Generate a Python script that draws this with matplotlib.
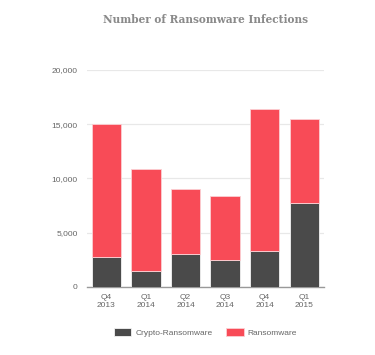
import matplotlib.pyplot as plt
import numpy as np

quarters = ["Q4\n2013", "Q1\n2014", "Q2\n2014", "Q3\n2014", "Q4\n2014", "Q1\n2015"]
crypto = [2700, 1450, 3000, 2500, 3250, 7700]
ransom = [12300, 9400, 6050, 5900, 13150, 7800]

dark = '#4a4a4a'
red = '#f84b57'
plt.rcParams['font.family'] = ['Liberation Sans', 'DejaVu Sans']

fig = plt.figure(figsize=(3.75, 3.55), dpi=100)
ax = fig.add_axes([0.231, 0.1924, 0.633, 0.6105])

x = np.arange(len(quarters))
ax.bar(x, crypto, width=0.74, color=dark, edgecolor='#f4f4f4', linewidth=0.6,
       label='Crypto-Ransomware', zorder=3)
ax.bar(x, ransom, width=0.74, bottom=crypto, color=red, edgecolor='#fbd0d3',
       linewidth=0.6, label='Ransomware', zorder=3)

ax.set_xlim(-0.5, 5.5)
ax.set_ylim(0, 20000)
ax.set_yticks([0, 5000, 10000, 15000, 20000])
ax.set_yticklabels(['0', '5,000', '10,000', '15,000', '20,000'])
ax.set_xticks(x)
ax.set_xticklabels(quarters, linespacing=1.35)
ax.grid(axis='y', color='#e8e8e8', linewidth=0.9, zorder=0)
for s in ['top', 'right', 'left']:
    ax.spines[s].set_visible(False)
ax.spines['bottom'].set_color('#999999')
ax.spines['bottom'].set_linewidth(1.0)
ax.tick_params(axis='both', length=0, labelsize=6, colors='#666666')
ax.tick_params(axis='y', pad=6.5)
ax.tick_params(axis='x', pad=5)

fig.text(0.547, 0.946, "Number of Ransomware Infections", ha='center', va='center',
         family='DejaVu Serif', fontweight='bold', fontsize=7.6, color='#8a8a8a')

fig.legend(loc='center', bbox_to_anchor=(0.548, 0.063), ncol=2, frameon=False,
           fontsize=6, labelcolor='#666666', handlelength=2.05, handleheight=1.1,
           columnspacing=1.7, handletextpad=0.45)

fig.savefig('out.png', dpi=100, facecolor='white')
